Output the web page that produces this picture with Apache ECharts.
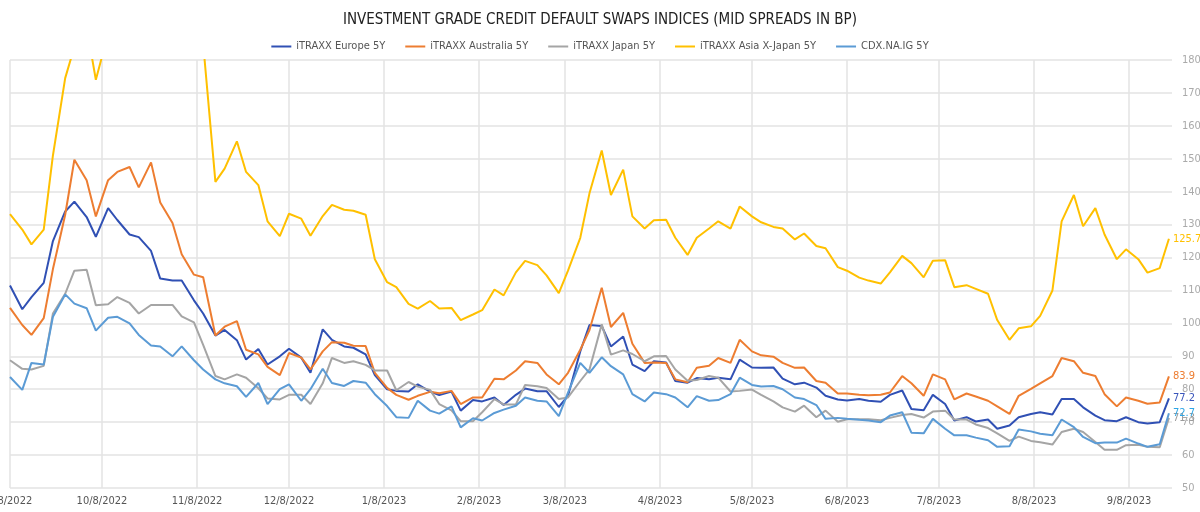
<!DOCTYPE html>
<html>
<head>
<meta charset="utf-8">
<script src="https://cdn.jsdelivr.net/npm/echarts@6/dist/echarts.min.js"></script>
<style>
  html, body { margin: 0; padding: 0; background: #fff; }
  #chart { width: 1200px; height: 512px; }
</style>
</head>
<body>
<div id="chart"></div>
<script>
    // sampled twice a week (Mon / Thu)
    var dates = [
        '2022-09-08','2022-09-12','2022-09-15','2022-09-19','2022-09-22','2022-09-26','2022-09-29',
        '2022-10-03','2022-10-06','2022-10-10','2022-10-13','2022-10-17','2022-10-20','2022-10-24','2022-10-27','2022-10-31',
        '2022-11-03','2022-11-07','2022-11-10','2022-11-14','2022-11-17','2022-11-21','2022-11-24','2022-11-28',
        '2022-12-01','2022-12-05','2022-12-08','2022-12-12','2022-12-15','2022-12-19','2022-12-22','2022-12-26','2022-12-29',
        '2023-01-02','2023-01-05','2023-01-09','2023-01-12','2023-01-16','2023-01-19','2023-01-23','2023-01-26','2023-01-30',
        '2023-02-02','2023-02-06','2023-02-09','2023-02-13','2023-02-16','2023-02-20','2023-02-23','2023-02-27',
        '2023-03-02','2023-03-06','2023-03-09','2023-03-13','2023-03-16','2023-03-20','2023-03-23','2023-03-27','2023-03-30',
        '2023-04-03','2023-04-06','2023-04-10','2023-04-13','2023-04-17','2023-04-20','2023-04-24','2023-04-27',
        '2023-05-01','2023-05-04','2023-05-08','2023-05-11','2023-05-15','2023-05-18','2023-05-22','2023-05-25','2023-05-29',
        '2023-06-01','2023-06-05','2023-06-08','2023-06-12','2023-06-15','2023-06-19','2023-06-22','2023-06-26','2023-06-29',
        '2023-07-03','2023-07-06','2023-07-10','2023-07-13','2023-07-17','2023-07-20','2023-07-24','2023-07-27','2023-07-31',
        '2023-08-03','2023-08-07','2023-08-10','2023-08-14','2023-08-17','2023-08-21','2023-08-24','2023-08-28','2023-08-31',
        '2023-09-04','2023-09-07','2023-09-11','2023-09-14','2023-09-18','2023-09-21'
    ];

    var europe = [
        111.5,104.3,108,112.3,125,134,137,
        132.3,126.3,135,131.4,127,126.2,122,113.6,113,
        113,107,103,96.3,98,94.9,89,92.2,
        87.5,90,92.3,89.6,85,98.2,95,93,92.6,
        90.6,84.3,80,79.5,79.3,81.5,79.3,78.2,79.3,
        73.5,76.7,76.3,77.5,75.2,78.3,80.2,79.4,
        79.4,74.6,78,91.5,99.5,99.2,93,96,87.5,
        85.5,88.5,88.1,82.5,82,83.4,83,83.5,
        83,89,86.6,86.5,86.6,83.2,81.5,82,80.5,
        78,76.9,76.6,77,76.5,76.2,78.3,79.6,74,
        73.6,78.3,75.5,70.5,71.5,70.2,70.8,68,69,
        71.5,72.5,73,72.3,77,77,74.5,72,70.6,
        70.3,71.5,70,69.6,70,77.2
    ];

    var australia = [
        104.7,99.5,96.5,101.6,116.5,133,149.7,
        143.5,132.5,143.5,146,147.5,141.3,148.9,136.7,130.5,
        121,114.8,114,96.3,99,100.7,92,90.6,
        86.8,84.3,91,89.6,86,91.5,94.3,94.1,93.2,
        93.1,85,80.4,78.3,76.8,78,79.2,78.8,79.5,
        75.5,77.5,77.5,83.2,83,85.7,88.5,88,
        84.5,81.5,85,92,98,110.8,98.9,103.2,93.8,
        88,88.1,88,83,82.1,86.5,87.1,89.5,
        88,95,91.5,90.3,89.9,88,86.5,86.6,82.5,
        82,78.7,78.7,78.3,78.2,78.3,79,84,81.8,
        78,84.5,83,76.9,78.7,77.8,76.5,74.8,72.5,
        78,80.1,81.8,84,89.5,88.5,85,84,78.5,
        74.8,77.5,76.5,75.6,76,83.9
    ];

    var japan = [
        88.8,86.2,86,87.1,103,109,116,
        116.3,105.5,105.8,108,106.2,103,105.6,105.6,105.6,
        102.1,100.3,93.5,84,83,84.5,83.5,80.3,
        77.2,76.9,78.3,78.3,75.5,81.8,89.5,88,88.5,
        87.4,85.7,85.7,79.7,82.2,80.8,79.8,75.5,73.6,
        70.3,70.3,73,77,75.4,75.4,81.3,80.9,
        80.4,77,77.5,82.5,86,99.7,90.5,91.8,90.7,
        88.5,90,90.1,86,82.6,82.8,84,83.5,
        79.3,79.5,79.9,78.3,76.3,74.5,73.2,75,71.5,
        73.5,70.1,70.9,70.9,70.9,70.6,71.3,72.2,72.5,
        71.4,73.2,73.5,70.8,70.8,69.3,68.2,66.6,64.3,
        65.6,64.3,63.9,63.2,67,68,67,64,61.6,
        61.6,63,63.1,62.5,62.4,71.3
    ];

    // values above 180 run off the top of the chart
    var asiaXJapan = [
        133.2,128.5,124,128.5,151,174.5,184,
        190,174,188,195,200,198,202,196,198,
        192,194,185,143,147,155.3,146,142,
        131,126.5,133.3,131.8,126.6,132.6,136,134.5,134.2,
        133,119.5,112.5,111,105.9,104.5,106.8,104.5,104.7,
        101,102.7,104,110.3,108.5,115.5,119,117.7,
        114.6,109.2,116,126,139.5,152.5,139,146.7,132.5,
        128.8,131.3,131.5,126,120.8,126,128.8,131,
        128.8,135.5,132.5,130.7,129.3,128.8,125.5,127.3,123.5,
        122.8,117.1,116,113.9,113,112.1,115.5,120.5,118.3,
        114,119,119.2,111,111.6,110.5,109,101,95,
        98.5,99.1,102.3,110,131,139,129.5,135,127,
        119.5,122.5,119.5,115.4,116.8,125.7
    ];

    var cdxIG = [
        83.7,79.8,88,87.5,102,108.8,106,
        104.6,97.8,101.7,102,100,96.5,93.3,93,90,
        93,88.8,86,83,81.8,80.9,77.7,81.9,
        75.5,80,81.5,76.5,80,86.2,81.9,81,82.5,
        82,78.5,74.9,71.5,71.3,76.5,73.5,72.6,74.8,
        68.4,71.2,70.5,72.8,73.8,75,77.5,76.5,
        76.3,71.8,79,88,85,89.7,87,84.5,78.5,
        76.3,79,78.5,77.5,74.5,77.9,76.5,76.7,
        78.5,83.5,81.3,80.8,81,80,77.5,77,75.2,
        71,71.3,71,70.7,70.5,70,72,73,66.8,
        66.6,71,68,66,66,65.3,64.5,62.5,62.7,
        67.8,67.2,66.5,66,70.8,68.5,65.5,63.6,63.8,
        63.8,65,63.5,62.5,63.3,72.7
    ];

    var tickDates = [
        '2022-09-08','2022-10-08','2022-11-08','2022-12-08','2023-01-08','2023-02-08','2023-03-08',
        '2023-04-08','2023-05-08','2023-06-08','2023-07-08','2023-08-08','2023-09-08'
    ];

    var seriesNames = ['iTRAXX Europe 5Y', 'iTRAXX Australia 5Y', 'iTRAXX Japan 5Y', 'iTRAXX Asia X-Japan 5Y', 'CDX.NA.IG 5Y'];
    var seriesColors = ['#3050b4', '#ed7d31', '#a5a5a5', '#ffc000', '#5b9bd5'];
    var labelColors = ['#3a55bb', '#ed7d31', '#9a9a9a', '#ffc000', '#2ea6e6'];
    var seriesValues = [europe, australia, japan, asiaXJapan, cdxIG];

    function ts(s) {
        var p = s.split('-');
        return new Date(+p[0], +p[1] - 1, +p[2]).getTime();
    }

    var FONT = '"Liberation Sans Narrow", "DejaVu Sans Condensed", "Roboto", sans-serif';

    var chart = echarts.init(document.getElementById('chart'));

    var series = seriesNames.map(function (name, k) {
        return {
            name: name,
            type: 'line',
            symbol: 'none',
            showSymbol: false,
            animation: false,
            lineStyle: { width: 2, color: seriesColors[k] },
            itemStyle: { color: seriesColors[k] },
            data: dates.map(function (d, i) { return [ts(d), seriesValues[k][i]]; }),
            endLabel: {
                show: true,
                color: labelColors[k],
                fontFamily: FONT,
                fontSize: 11,
                distance: 4,
                formatter: function (p) { return p.value[1].toFixed(1); }
            }
        };
    });

    var option = {
        animation: false,
        backgroundColor: '#fff',
        title: {
            text: 'INVESTMENT GRADE CREDIT DEFAULT SWAPS INDICES (MID SPREADS IN BP)',
            left: 'center',
            top: 8,
            textStyle: { fontFamily: FONT, fontSize: 15, fontWeight: 'normal', color: '#222' }
        },
        legend: {
            top: 36,
            left: 'center',
            icon: 'rect',
            itemWidth: 20,
            itemHeight: 2,
            itemGap: 20,
            textStyle: { fontFamily: FONT, fontSize: 11, color: '#555' },
            data: seriesNames
        },
        grid: { left: 10, right: 28, top: 60, bottom: 24, containLabel: false, outerBoundsMode: 'none' },
        // dates as timestamps on a value axis so ticks can sit on the 8th of each month
        xAxis: {
            type: 'value',
            min: ts('2022-09-08'),
            max: ts('2023-09-22'),
            axisLine: { show: false },
            axisTick: { show: false, customValues: tickDates.map(ts) },
            splitLine: { show: true, lineStyle: { color: '#e3e3e3', width: 1.5 } },
            axisLabel: {
                customValues: tickDates.map(ts),
                showMinLabel: true,
                color: '#555',
                fontFamily: FONT,
                fontSize: 11,
                margin: 8,
                formatter: function (v) {
                    var d = new Date(v);
                    return (d.getMonth() + 1) + '/' + d.getDate() + '/' + d.getFullYear();
                }
            }
        },
        yAxis: {
            type: 'value',
            position: 'right',
            min: 50,
            max: 180,
            interval: 10,
            axisLine: { show: false },
            axisTick: { show: false },
            splitLine: { lineStyle: { color: '#e3e3e3', width: 1.5 } },
            axisLabel: { color: '#aaa', fontFamily: FONT, fontSize: 11, margin: 10 }
        },
        series: series
    };

    chart.setOption(option);
</script>
</body>
</html>
